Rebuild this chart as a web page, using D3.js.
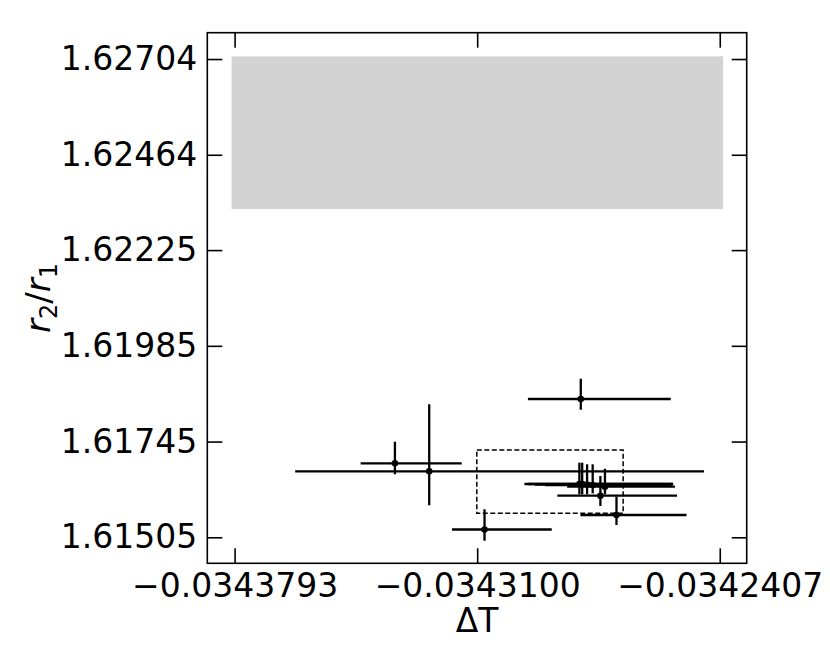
<!DOCTYPE html>
<html>
<head>
<meta charset="utf-8">
<script src="https://cdn.jsdelivr.net/npm/d3@7"></script>
<style>
body { margin: 0; background: #fff; }
svg { display: block; }
.axis text { font-family: "DejaVu Sans", sans-serif; font-size: 33px; fill: #000; }
</style>
</head>
<body>
<svg id="chart" width="830" height="664"></svg>
<script>
// points with asymmetric error bars
var xVal  = [-0.0343335, -0.0343237, -0.0343079, -0.0342804, -0.0342808, -0.0342800, -0.0342786, -0.0342770, -0.0342735, -0.0342748, -0.0342702];
var xLow  = [-0.0343433, -0.0343620, -0.0343172, -0.0342955, -0.0342965, -0.0342955, -0.0342935, -0.0342906, -0.0342843, -0.0342871, -0.0342805];
var xHigh = [-0.0343144, -0.0342452, -0.0342887, -0.0342547, -0.0342540, -0.0342541, -0.0342544, -0.0342549, -0.0342535, -0.0342529, -0.0342502];
var yVal  = [1.616905, 1.616704, 1.615245, 1.618517, 1.616386, 1.616386, 1.616374, 1.616361, 1.616318, 1.616093, 1.615609];
var yLow  = [1.616629, 1.615852, 1.614965, 1.618249, 1.616128, 1.616128, 1.616128, 1.616153, 1.616128, 1.615835, 1.615358];
var yHigh = [1.617446, 1.618384, 1.615752, 1.619026, 1.616920, 1.616920, 1.616880, 1.616880, 1.616770, 1.616587, 1.616068];

// shaded band and dashed box
var bandX = [-0.03438016, -0.03423976];
var bandY = [1.623277, 1.627108];
var boxX = [-0.0343101, -0.0342683];
var boxY = [1.615651, 1.617238];

// axes
var xLim = [-0.0343871, -0.0342330];
var yLim = [1.614398, 1.627700];
var xTicks = [-0.0343793, -0.0343100, -0.0342407];
var xTickLabels = ["\u22120.0343793", "\u22120.0343100", "\u22120.0342407"];
var yTicks = [1.61505, 1.61745, 1.61985, 1.62225, 1.62464, 1.62704];
var yTickLabels = ["1.61505", "1.61745", "1.61985", "1.62225", "1.62464", "1.62704"];

var pLeft = 207.3, pRight = 746.7, pTop = 32.7, pBottom = 563.3;
var svg = d3.select("#chart");

var x = d3.scaleLinear().domain(xLim).range([pLeft, pRight]);
var y = d3.scaleLinear().domain(yLim).range([pBottom, pTop]);

var pts = xVal.map(function(d, i) {
  return {x: d, xl: xLow[i], xh: xHigh[i], y: yVal[i], yl: yLow[i], yh: yHigh[i]};
});

//gray band
svg.append("rect")
  .attr("x", x(bandX[0]))
  .attr("y", y(bandY[1]))
  .attr("width", x(bandX[1]) - x(bandX[0]))
  .attr("height", y(bandY[0]) - y(bandY[1]))
  .attr("fill", "#d3d3d3");

//dashed box
svg.append("rect")
  .attr("x", x(boxX[0]))
  .attr("y", y(boxY[1]))
  .attr("width", x(boxX[1]) - x(boxX[0]))
  .attr("height", y(boxY[0]) - y(boxY[1]))
  .attr("fill", "none")
  .attr("stroke", "#000")
  .attr("stroke-width", 1.5)
  .attr("stroke-dasharray", "5,2.5");

//error bars
var eb = svg.append("g").attr("stroke", "#000").attr("stroke-width", 2.3);
eb.selectAll("line.h").data(pts).enter().append("line")
  .attr("class", "h")
  .attr("x1", function(d) { return x(d.xl); })
  .attr("x2", function(d) { return x(d.xh); })
  .attr("y1", function(d) { return y(d.y); })
  .attr("y2", function(d) { return y(d.y); });
eb.selectAll("line.v").data(pts).enter().append("line")
  .attr("class", "v")
  .attr("x1", function(d) { return x(d.x); })
  .attr("x2", function(d) { return x(d.x); })
  .attr("y1", function(d) { return y(d.yl); })
  .attr("y2", function(d) { return y(d.yh); });

svg.append("g").selectAll("circle").data(pts).enter().append("circle")
  .attr("cx", function(d) { return x(d.x); })
  .attr("cy", function(d) { return y(d.y); })
  .attr("r", 3.3)
  .attr("fill", "#000");

//axes, ticks pointing inward on all sides
function styleAxis(g) {
  g.select(".domain").remove();
  g.selectAll(".tick line").attr("stroke", "#000").attr("stroke-width", 1.6);
}

svg.append("g").attr("class", "axis")
  .attr("transform", "translate(0," + pBottom + ")")
  .call(d3.axisBottom(x).tickValues(xTicks).tickFormat(function(d, i) { return xTickLabels[i]; })
    .tickSizeInner(-15).tickSizeOuter(0).tickPadding(10))
  .call(styleAxis);

svg.append("g").attr("class", "axis")
  .attr("transform", "translate(0," + pTop + ")")
  .call(d3.axisTop(x).tickValues(xTicks).tickFormat("").tickSizeInner(-15).tickSizeOuter(0))
  .call(styleAxis);

svg.append("g").attr("class", "axis")
  .attr("transform", "translate(" + pLeft + ",0)")
  .call(d3.axisLeft(y).tickValues(yTicks).tickFormat(function(d, i) { return yTickLabels[i]; })
    .tickSizeInner(-15).tickSizeOuter(0).tickPadding(10))
  .call(styleAxis);

svg.append("g").attr("class", "axis")
  .attr("transform", "translate(" + pRight + ",0)")
  .call(d3.axisRight(y).tickValues(yTicks).tickFormat("").tickSizeInner(-15).tickSizeOuter(0))
  .call(styleAxis);

//frame
svg.append("rect")
  .attr("x", pLeft).attr("y", pTop)
  .attr("width", pRight - pLeft).attr("height", pBottom - pTop)
  .attr("fill", "none").attr("stroke", "#000").attr("stroke-width", 1.6);

//axis labels
svg.append("text")
  .attr("x", (pLeft + pRight) / 2)
  .attr("y", 632)
  .attr("text-anchor", "middle")
  .attr("font-family", "DejaVu Sans, sans-serif")
  .attr("font-size", 33)
  .text("\u0394T");

var yl = svg.append("text")
  .attr("transform", "translate(50," + ((pTop + pBottom) / 2) + ") rotate(-90)")
  .attr("text-anchor", "middle")
  .attr("font-family", "DejaVu Sans, sans-serif")
  .attr("font-size", 34);
yl.append("tspan").attr("font-style", "italic").text("r");
yl.append("tspan").attr("font-size", 24).attr("dy", 7).text("2");
yl.append("tspan").attr("dy", -7).text("/");
yl.append("tspan").attr("font-style", "italic").text("r");
yl.append("tspan").attr("font-size", 24).attr("dy", 7).text("1");
</script>
</body>
</html>
